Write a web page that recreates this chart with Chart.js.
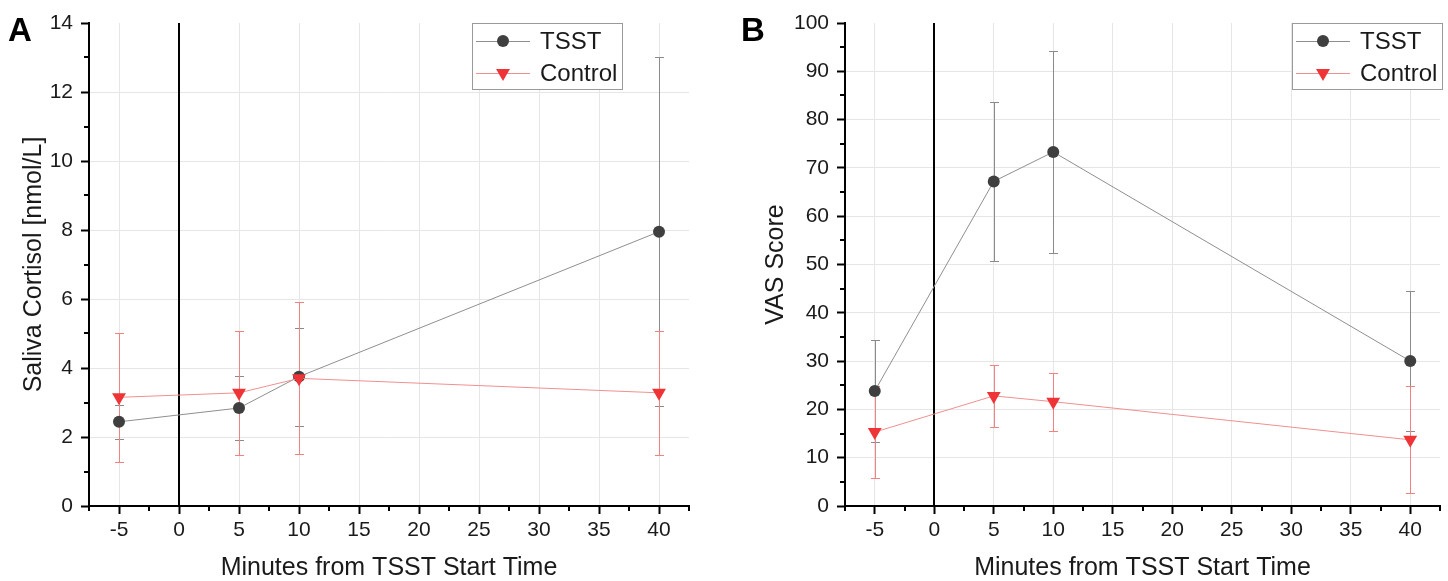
<!DOCTYPE html>
<html>
<head>
<meta charset="utf-8">
<script src="https://cdn.jsdelivr.net/npm/chart.js@4"></script>
<style>
  html, body { margin: 0; padding: 0; background: #fff; }
  #wrap { position: relative; width: 1448px; height: 581px; overflow: hidden; }
  canvas { position: absolute; top: 0; }
</style>
</head>
<body>
<div id="wrap">
  <canvas id="panelA" width="724" height="581" style="left:0px"></canvas>
  <canvas id="panelB" width="724" height="581" style="left:724px"></canvas>
</div>
<script>
// Sampling times (minutes relative to TSST start)
const minutes = [-5, 5, 10, 40];

// Axis ticks
const xTicks = [-5, 0, 5, 10, 15, 20, 25, 30, 35, 40];
const xMinorTicks = [-7.5, -2.5, 2.5, 7.5, 12.5, 17.5, 22.5, 27.5, 32.5, 37.5, 42.5];
const cortisolTicks = [0, 2, 4, 6, 8, 10, 12, 14];
const cortisolMinorTicks = [1, 3, 5, 7, 9, 11, 13];
const vasTicks = [0, 10, 20, 30, 40, 50, 60, 70, 80, 90, 100];
const vasMinorTicks = [5, 15, 25, 35, 45, 55, 65, 75, 85, 95];

// Panel A: saliva cortisol (nmol/L), mean and SD
const cortisolTsst = [2.44, 2.84, 3.75, 7.95];
const cortisolTsstSd = [0.50, 0.92, 1.42, 5.05];
const cortisolControl = [3.15, 3.28, 3.70, 3.28];
const cortisolControlSd = [1.87, 1.80, 2.20, 1.79];

// Panel B: VAS stress score, mean and SD
const vasTsst = [23.8, 67.2, 73.3, 30.0];
const vasTsstSd = [10.5, 16.5, 21.0, 14.5];
const vasControl = [15.3, 22.8, 21.6, 13.7];
const vasControlSd = [9.5, 6.4, 6.0, 11.1];

const seriesNames = ['TSST', 'Control'];

const FONT = "'Liberation Sans', Arial, sans-serif";
const TEXT = '#1a1a1a';
const TSST_LINE = '#8f8f8f';
const TSST_MARK = '#3f3f3f';
const TSST_ERR = '#8a8a8a';
const CTRL_LINE = '#f09090';
const CTRL_MARK = '#ee3436';
const CTRL_ERR = '#f28282';

function pts(values) {
  return minutes.map((m, i) => ({ x: m, y: values[i] }));
}

function drawMarker(ctx, style, x, y, color) {
  ctx.fillStyle = color;
  ctx.beginPath();
  if (style === 'circle') {
    ctx.arc(x, y, 6, 0, Math.PI * 2);
  } else {
    const r = 8;
    ctx.moveTo(x - r * Math.sqrt(3) / 2, y - r / 2);
    ctx.lineTo(x + r * Math.sqrt(3) / 2, y - r / 2);
    ctx.lineTo(x, y + r);
    ctx.closePath();
  }
  ctx.fill();
}

const crisp = v => Math.round(v) + 0.5;

// Zero line, error bars, minor ticks, legend box and panel letter
const panelDecor = {
  id: 'panelDecor',
  beforeDatasetsDraw(chart, args, opts) {
    const { ctx, chartArea, scales: { x, y } } = chart;
    ctx.save();
    const x0 = Math.round(x.getPixelForValue(0));
    ctx.strokeStyle = '#000';
    ctx.lineWidth = 2;
    ctx.beginPath();
    ctx.moveTo(x0, chartArea.top);
    ctx.lineTo(x0, chartArea.bottom);
    ctx.stroke();

    chart.data.datasets.forEach(ds => {
      ctx.strokeStyle = ds.errorColor;
      ctx.lineWidth = 1;
      ds.data.forEach((p, i) => {
        const e = ds.errors[i];
        const px = crisp(x.getPixelForValue(p.x));
        const hi = crisp(y.getPixelForValue(p.y + e));
        const lo = crisp(y.getPixelForValue(p.y - e));
        ctx.beginPath();
        ctx.moveTo(px, hi); ctx.lineTo(px, lo);
        ctx.moveTo(px - 4.5, hi); ctx.lineTo(px + 4.5, hi);
        ctx.moveTo(px - 4.5, lo); ctx.lineTo(px + 4.5, lo);
        ctx.stroke();
      });
    });
    ctx.restore();
  },
  afterDraw(chart, args, opts) {
    const { ctx, chartArea, scales: { x, y } } = chart;
    ctx.save();
    // minor ticks
    ctx.strokeStyle = '#000';
    ctx.lineWidth = 2;
    ctx.beginPath();
    opts.xMinor.forEach(v => {
      const px = Math.round(x.getPixelForValue(v));
      ctx.moveTo(px, chartArea.bottom);
      ctx.lineTo(px, chartArea.bottom + 5);
    });
    opts.yMinor.forEach(v => {
      const py = Math.round(y.getPixelForValue(v));
      ctx.moveTo(chartArea.left, py);
      ctx.lineTo(chartArea.left - 5, py);
    });
    ctx.stroke();

    // legend
    const L = opts.legendLeft, T = 23;
    ctx.fillStyle = '#fff';
    ctx.fillRect(L, T, 151, 66);
    ctx.strokeStyle = '#9a9a9a';
    ctx.lineWidth = 1;
    ctx.strokeRect(L + 0.5, T + 0.5, 150, 66);
    const rows = [41, 73];
    chart.data.datasets.forEach((ds, i) => {
      const ry = rows[i];
      ctx.strokeStyle = ds.borderColor;
      ctx.lineWidth = 1;
      ctx.beginPath();
      ctx.moveTo(L + 4, ry + 0.5);
      ctx.lineTo(L + 58, ry + 0.5);
      ctx.stroke();
      drawMarker(ctx, ds.pointStyle === 'circle' ? 'circle' : 'tri', L + 31, ry, ds.pointBackgroundColor);
      ctx.fillStyle = TEXT;
      ctx.font = '24px ' + FONT;
      ctx.textBaseline = 'middle';
      ctx.textAlign = 'left';
      ctx.fillText(ds.label, L + 68, ry + 1);
    });

    // panel letter
    ctx.fillStyle = '#000';
    ctx.font = 'bold 33px ' + FONT;
    ctx.textBaseline = 'alphabetic';
    ctx.textAlign = 'left';
    ctx.fillText(opts.letter, opts.letterX, 41);
    ctx.restore();
  }
};

function makePanel(id, cfg) {
  const tickFont = { family: FONT, size: 21 };
  new Chart(document.getElementById(id), {
    type: 'line',
    data: {
      datasets: [
        {
          label: seriesNames[0],
          data: pts(cfg.tsst),
          errors: cfg.tsstSd,
          errorColor: TSST_ERR,
          borderColor: TSST_LINE,
          borderWidth: 1,
          pointStyle: 'circle',
          pointRadius: 6,
          pointBackgroundColor: TSST_MARK,
          pointBorderColor: TSST_MARK,
          pointBorderWidth: 0,
          order: 1
        },
        {
          label: seriesNames[1],
          data: pts(cfg.control),
          errors: cfg.controlSd,
          errorColor: CTRL_ERR,
          borderColor: CTRL_LINE,
          borderWidth: 1,
          pointStyle: 'triangle',
          rotation: 180,
          pointRadius: 8,
          pointBackgroundColor: CTRL_MARK,
          pointBorderColor: CTRL_MARK,
          pointBorderWidth: 0,
          order: 0
        }
      ]
    },
    options: {
      responsive: false,
      animation: false,
      devicePixelRatio: 1,
      layout: { padding: { left: 0, right: cfg.padRight, top: 23, bottom: 0 } },
      plugins: {
        legend: { display: false },
        tooltip: { enabled: false },
        panelDecor: {
          xMinor: xMinorTicks,
          yMinor: cfg.yMinor,
          legendLeft: cfg.legendLeft,
          letter: cfg.letter,
          letterX: cfg.letterX
        }
      },
      scales: {
        x: {
          type: 'linear',
          min: -7.5,
          max: 42.5,
          afterBuildTicks: s => { s.ticks = xTicks.map(v => ({ value: v })); },
          afterFit: s => { s.height = 75; },
          border: { color: '#000', width: 2 },
          grid: {
            color: '#e6e6e6',
            lineWidth: 1,
            drawTicks: true,
            tickLength: 8,
            tickColor: '#000',
            tickWidth: 2
          },
          ticks: {
            font: tickFont,
            color: TEXT,
            padding: 4,
            maxRotation: 0,
            autoSkip: false,
            callback: v => String(v)
          },
          title: {
            display: true,
            text: 'Minutes from TSST Start Time',
            font: { family: FONT, size: 25, lineHeight: 1 },
            color: TEXT,
            padding: { top: 0, bottom: 0 }
          }
        },
        y: {
          type: 'linear',
          min: cfg.yTicks[0],
          max: cfg.yTicks[cfg.yTicks.length - 1],
          afterBuildTicks: s => { s.ticks = cfg.yTicks.map(v => ({ value: v })); },
          afterFit: s => { s.width = cfg.yWidth; },
          border: { color: '#000', width: 2 },
          grid: {
            color: c => (c.tick && (c.tick.value === cfg.yTicks[0] || c.tick.value === cfg.yTicks[cfg.yTicks.length - 1])) ? 'rgba(0,0,0,0)' : '#e6e6e6',
            lineWidth: 1,
            drawTicks: true,
            tickLength: 8,
            tickColor: '#000',
            tickWidth: 2
          },
          ticks: {
            font: tickFont,
            color: TEXT,
            padding: 8,
            autoSkip: false,
            callback: v => String(v)
          },
          title: {
            display: true,
            text: cfg.yTitle,
            font: { family: FONT, size: 25, lineHeight: 1 },
            color: TEXT,
            padding: { top: cfg.yTitlePad, bottom: 0 }
          }
        }
      }
    },
    plugins: [panelDecor]
  });
}

makePanel('panelA', {
  tsst: cortisolTsst, tsstSd: cortisolTsstSd,
  control: cortisolControl, controlSd: cortisolControlSd,
  yTicks: cortisolTicks, yMinor: cortisolMinorTicks,
  yTitle: 'Saliva Cortisol [nmol/L]', yTitlePad: 22,
  yWidth: 89, padRight: 35,
  legendLeft: 472, letter: 'A', letterX: 8
});

makePanel('panelB', {
  tsst: vasTsst, tsstSd: vasTsstSd,
  control: vasControl, controlSd: vasControlSd,
  yTicks: vasTicks, yMinor: vasMinorTicks,
  yTitle: 'VAS Score', yTitlePad: 40,
  yWidth: 121, padRight: 3,
  legendLeft: 568, letter: 'B', letterX: 17
});
</script>
</body>
</html>
